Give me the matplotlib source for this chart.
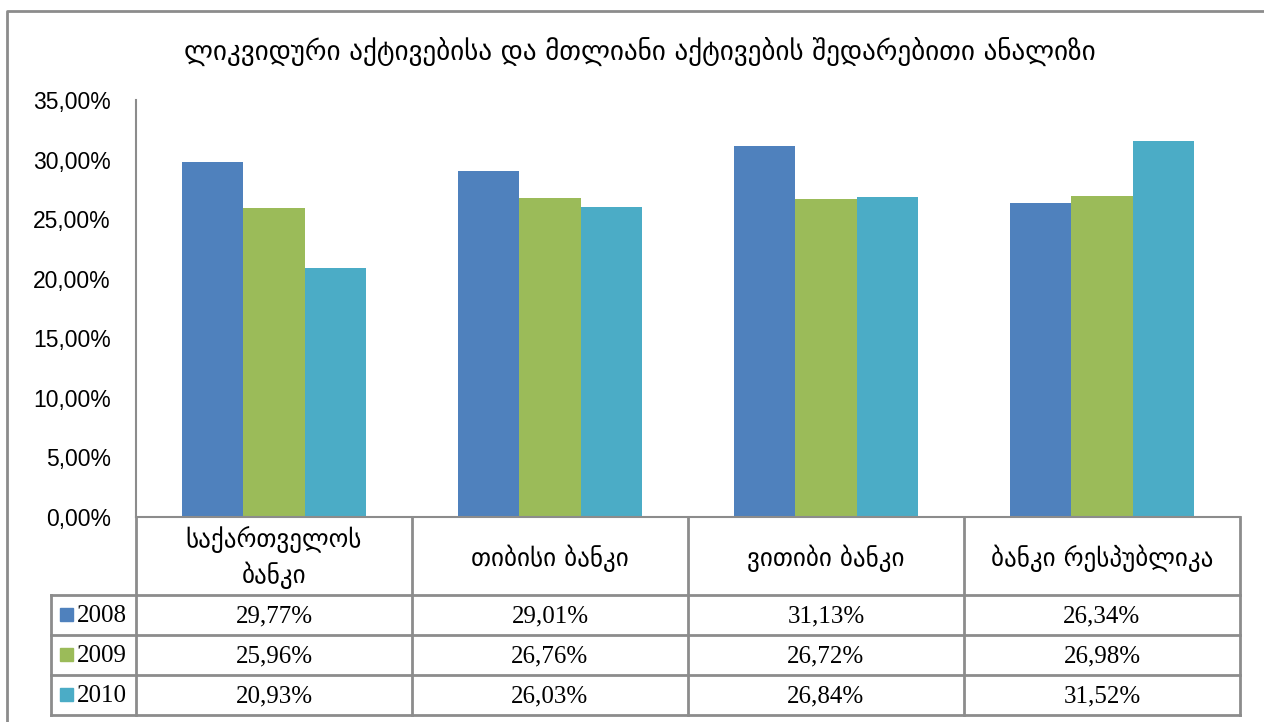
import numpy as np
import matplotlib
matplotlib.use("Agg")
import matplotlib.pyplot as plt
from matplotlib.lines import Line2D
from matplotlib.patches import Rectangle

# data
banks = ["საქართველოს\nბანკი", "თიბისი ბანკი", "ვითიბი ბანკი", "ბანკი რესპუბლიკა"]
years = ["2008", "2009", "2010"]
v2008 = [29.77, 29.01, 31.13, 26.34]
v2009 = [25.96, 26.76, 26.72, 26.98]
v2010 = [20.93, 26.03, 26.84, 31.52]
yticks = [0, 5, 10, 15, 20, 25, 30, 35]
title = "ლიკვიდური აქტივებისა და მთლიანი აქტივების შედარებითი ანალიზი"

colors = ["#4F81BD", "#9BBB59", "#4BACC6"]
line_col = "#8c8c8c"
W, H = 1264, 722

def pct(v):
    return "{:.2f}%".format(v).replace(".", ",")

fig = plt.figure(figsize=(W / 100, H / 100), dpi=100)

# plot area in pixel layout
left, right, top, bottom = 136, 1240, 100, 517
ax = fig.add_axes([left / W, 1 - bottom / H, (right - left) / W, (bottom - top) / H])
x = np.arange(len(banks))
bw = 1 / 4.5  # gap width 150%
for i, vals in enumerate([v2008, v2009, v2010]):
    ax.bar(x + (i - 1) * bw, vals, width=bw, color=colors[i], label=years[i], zorder=2)
ax.set_xlim(-0.5, len(banks) - 0.5)
ax.set_ylim(0, 35)
ax.set_yticks(yticks)
ax.set_yticklabels([pct(t) for t in yticks], fontsize=16.5, family="Liberation Sans")
ax.tick_params(axis="y", length=0, pad=18)
ax.set_xticks([])
for s in ["top", "right"]:
    ax.spines[s].set_visible(False)
ax.spines["left"].set_color(line_col)
ax.spines["bottom"].set_color(line_col)
ax.spines["left"].set_linewidth(1.5)
ax.spines["bottom"].set_linewidth(1.5)

# overlay in pixel coordinates for frame, title and data table
ov = fig.add_axes([0, 0, 1, 1], zorder=5)
ov.set_xlim(0, W)
ov.set_ylim(H, 0)
ov.axis("off")
ov.patch.set_alpha(0)

# chart frame
ov.add_line(Line2D([7, 7, W + 5], [H + 5, 11, 11], color=line_col, lw=2))

ov.text(W / 2 + 8, 52, title, ha="center", va="center", fontsize=19.5, family="DejaVu Sans")

# data table
col_w = (right - left) / len(banks)
cols = [left + i * col_w for i in range(len(banks) + 1)]
rows = [bottom, 595, 635, 675, 715]
tab_left = 51
lk = dict(color=line_col, lw=2)
for cx in cols:
    ov.add_line(Line2D([cx, cx], [rows[0], rows[-1]], **lk))
ov.add_line(Line2D([tab_left, tab_left], [rows[1], rows[-1]], **lk))
for ry in rows[1:]:
    ov.add_line(Line2D([tab_left, right], [ry, ry], **lk))

for j, name in enumerate(banks):
    ov.text((cols[j] + cols[j + 1]) / 2, (rows[0] + rows[1]) / 2 + 2, name,
            ha="center", va="center", fontsize=18, family="DejaVu Sans", linespacing=1.4)

for i, vals in enumerate([v2008, v2009, v2010]):
    cy = (rows[i + 1] + rows[i + 2]) / 2
    ov.add_patch(Rectangle((60, cy - 7), 13, 13, color=colors[i]))
    ov.text(77, cy + 1, years[i], ha="left", va="center", fontsize=18, family="Liberation Serif")
    for j, v in enumerate(vals):
        ov.text((cols[j] + cols[j + 1]) / 2, cy + 1, pct(v), ha="center", va="center",
                fontsize=18, family="Liberation Serif")

fig.savefig("out.png", dpi=100)
